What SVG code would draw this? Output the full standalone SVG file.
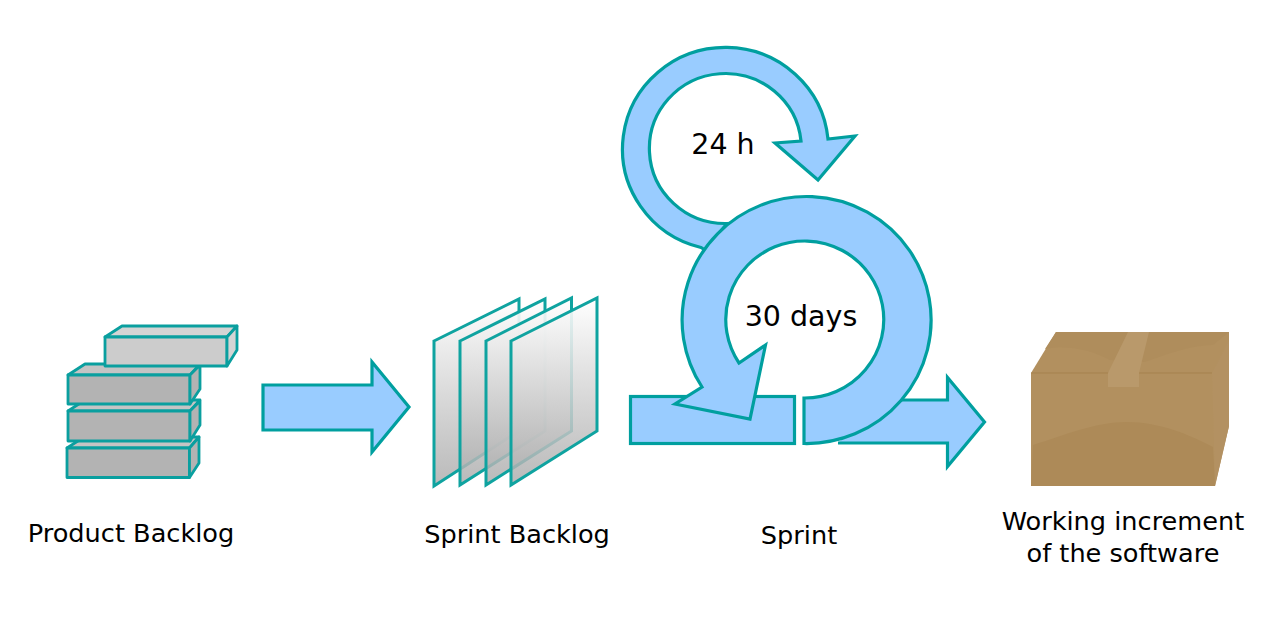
<svg xmlns="http://www.w3.org/2000/svg" width="1280" height="640" viewBox="0 0 1280 640">
<style>
.a{fill:#99ccff;stroke:#009f9f;stroke-width:3.200;stroke-linejoin:miter;stroke-miterlimit:10}
.b{stroke:#0a9f9f;stroke-width:2.800;stroke-linejoin:round}
.d{fill:#b3b3b3}
.l{fill:#c4c4c4}
.s{fill:url(#sheet);stroke:#0fa3a0;stroke-width:3;stroke-linejoin:miter}
text{font-family:"DejaVu Sans",sans-serif;font-size:25.600px;fill:#000;text-anchor:middle}
.big{font-size:28.500px}
</style>
<defs>
<linearGradient id="sheet" x1="0" y1="0" x2="0" y2="1">
<stop offset="0" stop-color="#ffffff" stop-opacity="0.92"/>
<stop offset="1" stop-color="#ababab" stop-opacity="0.82"/>
</linearGradient>
</defs>
<rect width="1280" height="640" fill="#fff"/>
<g id="product-backlog">
<path class="b l" d="M67 448L84 437H199L189.500 448Z"/><path class="b d" d="M67 448H189.500V477.500H67Z"/><path class="b d" d="M189.500 477.500V448L199 437V463Z"/>
<path class="b l" d="M68 411L85 400H200L190 411Z"/><path class="b d" d="M68 411H190V441H68Z"/><path class="b d" d="M190 441V411L200 401V425Z"/>
<path class="b l" d="M68 375L85 364H200L190 375Z"/><path class="b d" d="M68 375H190V404H68Z"/><path class="b d" d="M190 404V375L200 365V389Z"/>
<path class="b" fill="#d4d4d4" d="M105 337L122 326H237L227 337Z"/><path class="b" fill="#cccccc" d="M105 337H227V366H105Z"/><path class="b" fill="#d4d4d4" d="M227 366V337L237 326V350Z"/>
<text x="131" y="542">Product Backlog</text>
</g>
<g id="connectors">
<path id="arrow-backlog-sprint" class="a" d="M263 385H372V362L409 407L372 452V430H263Z"/>
<path id="arrow-sprint-increment" class="a" d="M838 443H947.500V466.500L984.500 422L947.500 377.500V400H880"/>
</g>
<g id="sprint-backlog">
<path class="s" d="M434 341L519 299V431L434 486Z"/>
<path class="s" d="M460 341L545 299V431L460 485Z"/>
<path class="s" d="M486 341L571.500 298V431L486 485Z"/>
<path class="s" d="M511 341L597 298V431L511 485Z"/>
<text x="517" y="543">Sprint Backlog</text>
</g>
<g id="daily-cycle">
<path class="a" d="M705 250L701 247.500A103 101.500 0 1 1 828 139L855 136L818 180L775 143L801 141A76 75 0 1 0 727 223.500Z"/>
<text class="big" x="723" y="154">24 h</text>
</g>
<g id="sprint-cycle">
<rect class="a" x="630.500" y="396.500" width="164" height="47"/>
<path class="a" d="M804 443.500A124.500 123.500 0 1 0 702 387L675 404L750 419L765.500 345L739 363A79 78.500 0 1 1 804 398Z"/>
<text class="big" x="801" y="326">30 days</text>
<text x="799" y="544">Sprint</text>
</g>
<g id="working-increment">
<path fill="#b2905f" d="M1031 373L1056 332H1229V426L1215 486H1031Z"/>
<path fill="#af8d5c" d="M1056 332H1229L1213 345C1190 345 1165 355 1145 362L1110 360C1090 350 1070 345 1045 349Z"/>
<path fill="#b39162" d="M1212 373L1229 340V426L1215 486Z"/>
<path fill="#ad8a58" d="M1033 445C1065 435 1095 422 1127 422C1160 422 1190 435 1213 447L1215 486H1031Z"/>
<path fill="none" stroke="#a5814f" stroke-width="1" d="M1031 373H1212"/>
<path fill="#b9996b" d="M1128 332H1149L1139 373V387H1108V373Z"/>
<text x="1123" y="530">Working increment</text>
<text x="1123" y="562">of the software</text>
</g>
</svg>
